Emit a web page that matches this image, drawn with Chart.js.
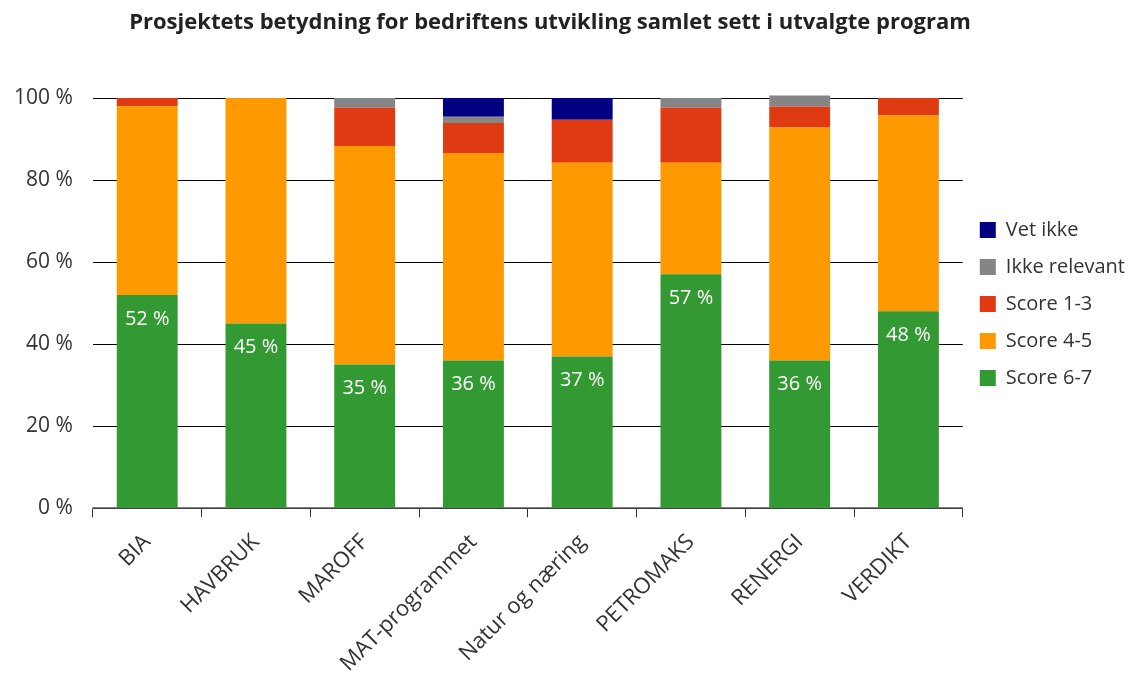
<!DOCTYPE html>
<html>
<head>
<meta charset="utf-8">
<script src="https://cdn.jsdelivr.net/npm/chart.js@4"></script>
<style>
  body { margin: 0; background: #fff; }
  #wrap { width: 1140px; height: 680px; }
</style>
</head>
<body>
<div id="wrap"><canvas id="grafik"></canvas></div>
<script>
// Data lest av figuren (prosent)
const programmer = ["BIA", "HAVBRUK", "MAROFF", "MAT-programmet", "Natur og næring", "PETROMAKS", "RENERGI", "VERDIKT"];
const score67 = [52, 45, 35, 36, 37, 57, 36, 48];
const score45 = [46, 55, 53.3, 50.6, 47.2, 27.2, 56.8, 47.8];
const score13 = [2, 0, 9.3, 7.3, 10.5, 13.4, 5.1, 4.2];
const ikkeRelevant = [0, 0, 2.4, 1.5, 0, 2.4, 2.7, 0];
const vetIkke = [0, 0, 0, 4.6, 5.3, 0, 0, 0];
const yTicks = [0, 20, 40, 60, 80, 100];
const tittel = "Prosjektets betydning for bedriftens utvikling samlet sett i utvalgte program";

const fontFam = "'Open Sans', sans-serif";

// Tittel og tekst på de grønne søylene
const tekstPlugin = {
  id: "tekstPlugin",
  afterDatasetsDraw(chart) {
    const ctx = chart.ctx;
    const meta = chart.getDatasetMeta(0);
    ctx.save();
    ctx.fillStyle = "#ffffff";
    ctx.font = "20px " + fontFam;
    ctx.textAlign = "center";
    ctx.textBaseline = "middle";
    meta.data.forEach((bar, i) => {
      ctx.fillText(Math.round(score67[i]) + " %", bar.x, bar.y + 24);
    });
    ctx.fillStyle = "#222";
    ctx.font = "bold 22px " + fontFam;
    ctx.fillText(tittel, 550, 23);
    ctx.restore();
  }
};

const ctx = document.getElementById("grafik").getContext("2d");
new Chart(ctx, {
  type: "bar",
  data: {
    labels: programmer,
    datasets: [
      { label: "Score 6-7", data: score67, backgroundColor: "#339933" },
      { label: "Score 4-5", data: score45, backgroundColor: "#ff9900" },
      { label: "Score 1-3", data: score13, backgroundColor: "#df3a12" },
      { label: "Ikke relevant", data: ikkeRelevant, backgroundColor: "#858585" },
      { label: "Vet ikke", data: vetIkke, backgroundColor: "#000080" }
    ].map(d => Object.assign(d, { clip: false, barPercentage: 0.56, categoryPercentage: 1 }))
  },
  options: {
    responsive: true,
    maintainAspectRatio: false,
    animation: false,
    layout: { padding: { top: 98, left: -6, right: 5, bottom: -9 } },
    plugins: {
      legend: {
        position: "right",
        reverse: true,
        align: "start",
        title: { display: true, text: " ", font: { size: 10 }, padding: { top: 0, bottom: 93 } },
        labels: {
          color: "#333",
          font: { family: fontFam, size: 20 },
          boxWidth: 16,
          boxHeight: 16,
          padding: 17
        }
      },
      tooltip: { enabled: false }
    },
    scales: {
      x: {
        stacked: true,
        border: { color: "#808080", width: 1.5 },
        grid: { offset: true, drawOnChartArea: false, tickLength: 9, color: "#333" },
        ticks: {
          color: "#333",
          font: { family: fontFam, size: 22 },
          maxRotation: 45,
          minRotation: 45,
          padding: 12
        }
      },
      y: {
        stacked: true,
        min: 0,
        max: 100,
        afterBuildTicks(axis) { axis.ticks = yTicks.map(v => ({ value: v })); },
        border: { display: false },
        grid: { color: "#000", drawTicks: false, lineWidth: 1 },
        ticks: {
          color: "#333",
          font: { family: fontFam, size: 21 },
          padding: 20,
          callback: v => v + " %"
        }
      }
    }
  },
  plugins: [tekstPlugin]
});
</script>
</body>
</html>
